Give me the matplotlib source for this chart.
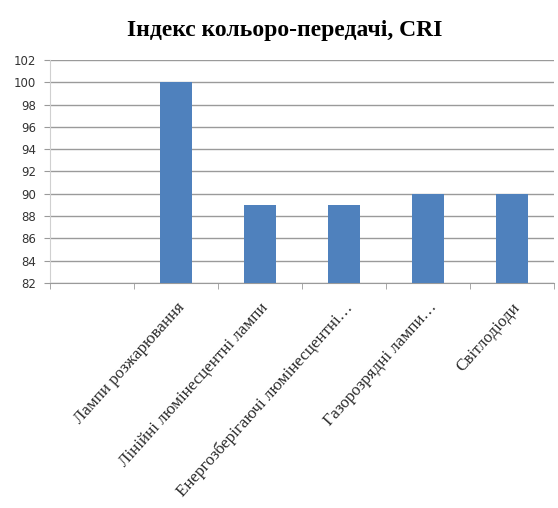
import numpy as np
import matplotlib.pyplot as plt

# Colour rendering index by lamp type (first slot is an empty header column)
categories = ['', 'Лампи розжарювання', 'Лінійні люмінесцентні лампи',
              'Енергозберігаючі люмінесцентні…', 'Газорозрядні лампи…', 'Світлодіоди']
cri_values = [np.nan, 100, 89, 89, 90, 90]
y_ticks = list(range(82, 103, 2))

BAR_COLOR = '#4F81BD'
GRID_COLOR = '#9a9a9a'

fig = plt.figure(figsize=(5.58, 5.08), dpi=100)
ax = fig.add_axes([0.0896, 0.443, 0.903, 0.439])

x = np.arange(len(categories))
ax.bar(x, np.nan_to_num(cri_values, nan=82) - 82, bottom=82, width=0.39,
       color=BAR_COLOR, zorder=3)

ax.set_ylim(82, 102)
ax.set_yticks(y_ticks)
ax.set_yticklabels([str(t) for t in y_ticks], fontsize=8.5, color='#333333')
ax.set_xlim(-0.5, len(categories) - 0.5)

# category labels centred on bars, tick marks on the boundaries
ax.set_xticks(x)
ax.set_xticklabels(categories, rotation=48, ha='right', rotation_mode='anchor',
                   family='Liberation Serif', fontsize=12.2, color='#2a2a2a')
ax.tick_params(axis='x', length=0, pad=12)
ax.set_xticks(np.arange(len(categories) + 1) - 0.5, minor=True)
ax.tick_params(axis='x', which='minor', length=4, color=GRID_COLOR)
ax.tick_params(axis='y', length=4, color=GRID_COLOR, pad=6)

ax.grid(axis='y', color=GRID_COLOR, linewidth=1, zorder=0)
for side in ['top', 'right']:
    ax.spines[side].set_visible(False)
ax.spines['left'].set_color('#d0d0d0')
ax.spines['bottom'].set_color(GRID_COLOR)

fig.text(0.51, 0.94, 'Індекс кольоро-передачі, CRI', ha='center', va='center',
         family='Liberation Serif', fontweight='bold', fontsize=17)

fig.savefig('out.png', dpi=100)
